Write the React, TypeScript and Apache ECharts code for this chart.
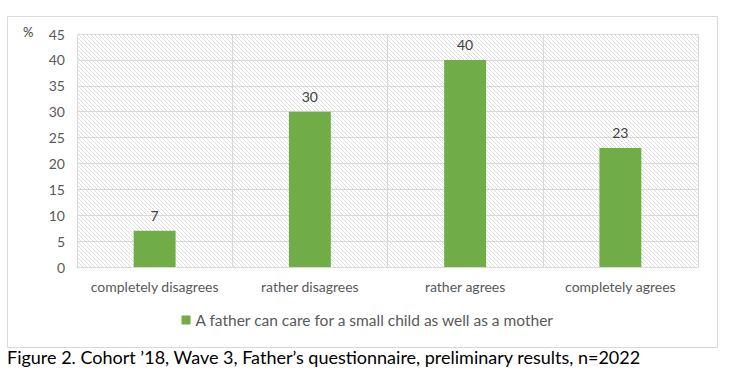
import React, { useEffect, useRef } from "react";
import * as echarts from "echarts";

const categories = ["completely disagrees", "rather disagrees", "rather agrees", "completely agrees"];
const values = [7, 30, 40, 23];
const seriesName = "A father can care for a small child as well as a mother";
const caption = "Figure 2. Cohort ’18, Wave 3, Father’s questionnaire, preliminary results, n=2022";

function makeHatch(): HTMLCanvasElement {
  const c = document.createElement("canvas");
  c.width = 4;
  c.height = 4;
  const ctx = c.getContext("2d")!;
  ctx.fillStyle = "#ffffff";
  ctx.fillRect(0, 0, 4, 4);
  ctx.strokeStyle = "#dedede";
  ctx.lineWidth = 1;
  ctx.beginPath();
  ctx.moveTo(-1, -1);
  ctx.lineTo(5, 5);
  ctx.moveTo(-1, 3);
  ctx.lineTo(1, 5);
  ctx.moveTo(3, -1);
  ctx.lineTo(5, 1);
  ctx.stroke();
  return c;
}

export default function App() {
  const ref = useRef<HTMLDivElement>(null);
  useEffect(() => {
    document.body.style.margin = "0";
    const chart = echarts.init(ref.current!, null, { renderer: "svg" });
    const font = "Lato, 'Open Sans', sans-serif";
    chart.setOption({
      animation: false,
      textStyle: { fontFamily: font },
      grid: {
        left: 77,
        right: 38,
        top: 34,
        bottom: 118,
        show: true,
        borderWidth: 0,
        backgroundColor: { image: makeHatch(), repeat: "repeat" },
      },
      legend: {
        bottom: 52,
        left: "center",
        itemWidth: 9,
        itemHeight: 9,
        itemGap: 4,
        icon: "rect",
        textStyle: { color: "#595959", fontSize: 15.5, fontFamily: font },
        data: [seriesName],
      },
      xAxis: {
        type: "category",
        data: categories,
        axisLine: { lineStyle: { color: "#D9D9D9" } },
        axisTick: { show: false },
        splitLine: { show: true, lineStyle: { color: "#D9D9D9" } },
        axisLabel: { color: "#595959", fontSize: 14, margin: 12, interval: 0, fontFamily: font },
      },
      yAxis: {
        type: "value",
        min: 0,
        max: 45,
        interval: 5,
        axisLine: { show: false },
        axisTick: { show: false },
        splitLine: { lineStyle: { color: "#D9D9D9" } },
        axisLabel: { color: "#595959", fontSize: 14, margin: 12, fontFamily: font },
      },
      series: [
        {
          name: seriesName,
          type: "bar",
          data: values,
          barWidth: "27%",
          itemStyle: { color: "#70AD47" },
          label: { show: true, position: "top", color: "#404040", fontSize: 14, distance: 8, fontFamily: font },
        },
      ],
      graphic: [
        {
          type: "rect",
          shape: { x: 7.5, y: 16.5, width: 710, height: 331 },
          style: { fill: "none", stroke: "#D9D9D9", lineWidth: 1 },
          silent: true,
        },
        {
          type: "text",
          x: 23,
          y: 25,
          style: { text: "%", fill: "#404040", font: `13px ${font}` },
        },
        {
          type: "text",
          x: 7,
          y: 348,
          style: { text: caption, fill: "#000000", font: `18px ${font}` },
        },
      ],
    });
    return () => chart.dispose();
  }, []);
  return <div ref={ref} style={{ width: 736, height: 385 }} />;
}
